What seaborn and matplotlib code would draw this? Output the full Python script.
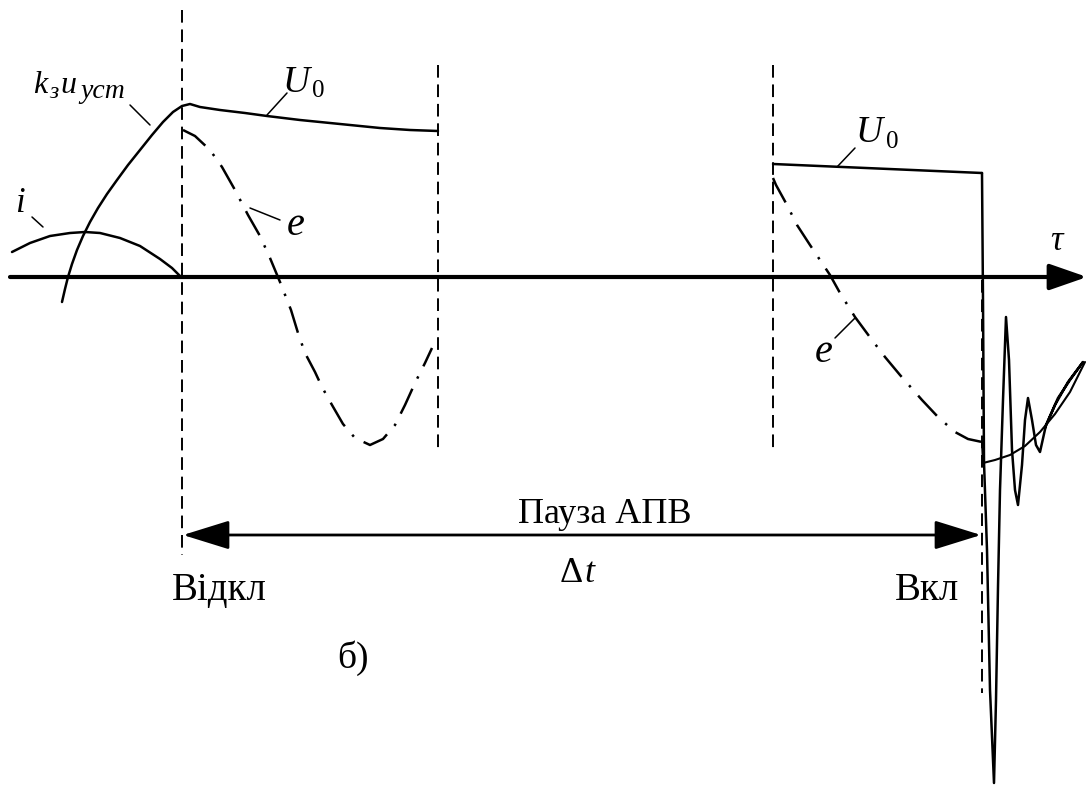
import numpy as np
import matplotlib.pyplot as plt
import seaborn as sns

# coordinates in pixels (x right, y down)
axis_y = 277

i_x = [12, 30, 50, 70, 85, 100, 120, 140, 160, 172, 181]
i_y = [252, 243, 236, 233, 232, 233, 238, 246, 259, 268, 277]

u_x = [62, 65, 68, 72, 77, 83, 90, 98, 107, 117, 128, 140, 152, 163, 173, 182, 190,
       200, 220, 245, 267, 300, 340, 380, 410, 438]
u_y = [302, 289, 277, 264, 250, 236, 222, 208, 194, 180, 165, 150, 135, 122, 112, 106, 104,
       107, 110, 113, 116, 120, 124, 128, 130, 131]

e1_x = [183, 195, 210, 222, 235, 248, 260, 270, 280, 291, 298, 305, 315, 322, 332, 343, 355, 370, 383, 395, 405, 415, 425, 432]
e1_y = [130, 136, 150, 167, 190, 215, 236, 258, 282, 310, 333, 353, 372, 387, 405, 424, 438, 445, 439, 425, 405, 383, 363, 348]

u0b_x = [773, 982]
u0b_y = [164, 173]

e2_x = [773, 776, 787, 797, 810, 830, 840, 855, 872, 885, 900, 922, 938, 955, 968, 982]
e2_y = [178, 185, 205, 225, 245, 275, 293, 317, 340, 357, 375, 400, 417, 432, 439, 442]

osc_x = [982, 983, 984, 987, 990, 994, 996, 998, 1000, 1003, 1006, 1009, 1012, 1015, 1018, 1022, 1025,
         1028, 1032, 1036, 1040, 1046, 1058, 1070, 1083, 1068, 1055, 1045]
osc_y = [173, 300, 462, 550, 690, 783, 700, 587, 490, 400, 317, 360, 450, 490, 505, 465, 420,
         398, 420, 445, 452, 425, 398, 380, 362, 382, 405, 428]

steady_x = [982, 983, 995, 1010, 1025, 1040, 1055, 1070, 1085]
steady_y = [442, 463, 460, 455, 446, 432, 414, 392, 362]

dash_x = [182, 438, 773, 982]
dash_top = [10, 65, 65, 280]
dash_bot = [555, 448, 448, 693]

leaders = [((32, 43), (217, 227)), ((130, 150), (105, 125)), ((267, 287), (115, 93)),
           ((250, 280), (208, 220)), ((837, 855), (167, 148)), ((835, 855), (338, 318))]

pause_start, pause_end, pause_y = 183, 981, 535

sns.set_style("white")
plt.rcParams['font.family'] = ['Liberation Serif', 'DejaVu Serif']
plt.rcParams['text.color'] = 'black'

fig = plt.figure(figsize=(10.88, 7.87), dpi=100)
ax = fig.add_axes([0, 0, 1, 1])
ax.set_xlim(0, 1088)
ax.set_ylim(787, 0)
ax.axis('off')


def curve(xs, ys, **kw):
    sns.lineplot(x=xs, y=ys, sort=False, estimator=None, color='black', ax=ax, **kw)


dashdot = (0, (11, 4.5, 1, 4.5))
curve(i_x, i_y, lw=1.8)
curve(u_x, u_y, lw=1.8)
curve(e1_x, e1_y, lw=1.8, linestyle=dashdot)
curve(u0b_x, u0b_y, lw=1.8)
curve(e2_x, e2_y, lw=1.8, linestyle=dashdot)
curve(osc_x, osc_y, lw=1.8)
curve(steady_x, steady_y, lw=1.5)

for x, t, b in zip(dash_x, dash_top, dash_bot):
    ax.plot([x, x], [t, b], color='black', lw=1.4, linestyle=(0, (6.5, 3.5)))

for lx, ly in leaders:
    ax.plot(lx, ly, color='black', lw=1.1)

# time axis
ax.annotate('', xy=(1087, axis_y), xytext=(10, axis_y),
            arrowprops=dict(arrowstyle='-|>,head_length=1.15,head_width=0.4',
                            mutation_scale=20, lw=3, color='black', shrinkA=0, shrinkB=0))
# pause arrow
ax.annotate('', xy=(pause_end, pause_y), xytext=(pause_start, pause_y),
            arrowprops=dict(arrowstyle='<|-|>,head_length=1.45,head_width=0.45',
                            mutation_scale=20, lw=2, color='black', shrinkA=0, shrinkB=0))

it = dict(style='italic', color='black', va='baseline')
ax.text(20, 212, 'i', fontsize=25, ha='center', **it)
ax.text(33, 93, 'k', fontsize=23, ha='left', **it)
ax.text(49, 98, 'з', fontsize=17, ha='left', **it)
ax.text(60, 93, 'u', fontsize=23, ha='left', **it)
ax.text(80, 98, 'уст', fontsize=20, ha='left', **it)
ax.text(283, 92, 'U', fontsize=27, ha='left', **it)
ax.text(312, 97, '0', fontsize=18, ha='left', va='baseline')
ax.text(856, 142, 'U', fontsize=27, ha='left', **it)
ax.text(886, 148, '0', fontsize=18, ha='left', va='baseline')
ax.text(296, 235, 'e', fontsize=29, ha='center', **it)
ax.text(824, 362, 'e', fontsize=29, ha='center', **it)
ax.text(1056, 250, 'τ', fontsize=25, ha='center', **it)

ax.text(605, 523, 'Пауза АПВ', fontsize=26, ha='center', va='baseline')
ax.text(571, 582, 'Δ', fontsize=26, ha='center', va='baseline')
ax.text(584, 582, 't', fontsize=26, ha='left', **it)
ax.text(172, 600, 'Відкл', fontsize=28, ha='left', va='baseline')
ax.text(895, 600, 'Вкл', fontsize=28, ha='left', va='baseline')
ax.text(353, 668, 'б)', fontsize=27, ha='center', va='baseline')

plt.savefig('out.png', dpi=100)
